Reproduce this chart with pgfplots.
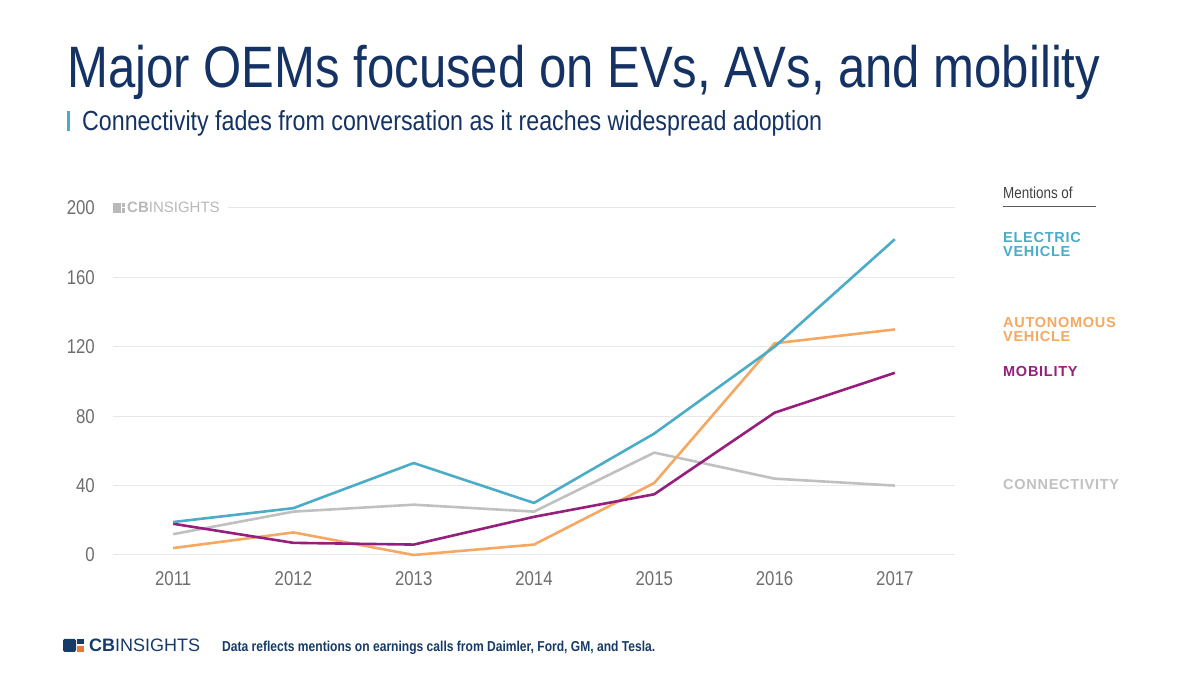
\documentclass[border=0pt]{standalone}
\usepackage{fontspec}
\setmainfont{Liberation Sans}[FakeStretch=0.84]
\newfontfamily\widesans{Liberation Sans}
\newfontfamily\legfont{Liberation Sans}[LetterSpace=5]
\usepackage{pgfplots}
\pgfplotsset{compat=1.18}
\definecolor{evblue}{RGB}{75,172,200}
\definecolor{avorange}{RGB}{245,168,98}
\definecolor{mobpurple}{RGB}{150,30,125}
\definecolor{congray}{RGB}{192,192,192}
\definecolor{titlenavy}{RGB}{20,50,100}
\definecolor{ticktext}{RGB}{110,110,110}
\definecolor{gridc}{RGB}{232,232,232}
\definecolor{wmgray}{RGB}{185,185,185}
\definecolor{logonavy}{RGB}{22,58,105}
\definecolor{logoorange}{RGB}{232,120,50}
\begin{document}
\begin{tikzpicture}
\path[use as bounding box] (0pt,0pt) rectangle (1200pt,674pt);
\begin{axis}[
  at={(113pt,119pt)}, anchor=south west,
  scale only axis, width=842pt, height=347pt,
  xmin=2010.5, xmax=2017.5, ymin=0, ymax=200,
  axis line style={draw=none},
  major tick length=0pt,
  xtick={2011,2012,2013,2014,2015,2016,2017},
  xticklabels={2011,2012,2013,2014,2015,2016,2017},
  ytick={0,40,80,120,160,200},
  yticklabels={0,40,80,120,160,200},
  ymajorgrids, grid style={gridc, line width=1pt},
  tick label style={font=\fontsize{20}{24}\selectfont, text=ticktext},
  yticklabel style={anchor=east, inner sep=0pt, xshift=-18pt},
  xticklabel style={anchor=north, inner sep=0pt, yshift=-16pt},
  clip=false,
  every axis plot/.append style={line width=2.6pt, line join=round}
]
\addplot[congray] coordinates {(2011,12) (2012,25) (2013,29) (2014,25) (2015,59) (2016,44) (2017,40)};
\addplot[avorange] coordinates {(2011,4) (2012,13) (2013,0) (2014,6) (2015,41.5) (2016,122) (2017,130)};
\addplot[mobpurple] coordinates {(2011,18) (2012,7) (2013,6) (2014,22) (2015,35) (2016,82) (2017,105)};
\addplot[evblue] coordinates {(2011,19) (2012,27) (2013,53) (2014,30) (2015,70) (2016,120) (2017,182)};
\end{axis}
\begin{scope}[x=1pt,y=1pt]
% title
\node[anchor=base west, inner sep=0, text=titlenavy] at (67,586)
  {\resizebox{1033pt}{!}{\fontsize{50}{60}\selectfont Major OEMs focused on EVs, AVs, and mobility}};
\fill[evblue] (67,543) rectangle (70,563);
\node[anchor=base west, inner sep=0, text=titlenavy] at (82,543)
  {\resizebox{740pt}{!}{\fontsize{24}{28}\selectfont Connectivity fades from conversation as it reaches widespread adoption}};
% watermark
\fill[white] (108,452) rectangle (228,475);
\fill[wmgray] (113,461) rectangle (121,471);
\fill[wmgray] (122,467) rectangle (125,471);
\fill[wmgray] (122,461) rectangle (125,465.5);
\node[anchor=base west, inner sep=0, text=wmgray] at (127,461)
  {\widesans\fontsize{15}{17}\selectfont\textbf{CB}INSIGHTS};
% legend
\node[anchor=base west, inner sep=0, text=black!75] at (1003,475) {\fontsize{16}{18}\selectfont Mentions of};
\draw[black!65, line width=1pt] (1003,467) -- (1096,467);
\node[anchor=base west, inner sep=0, text=evblue] at (1003,431) {\legfont\bfseries\fontsize{14.5}{16}\selectfont ELECTRIC};
\node[anchor=base west, inner sep=0, text=evblue] at (1003,417) {\legfont\bfseries\fontsize{14.5}{16}\selectfont VEHICLE};
\node[anchor=base west, inner sep=0, text=avorange] at (1003,346) {\legfont\bfseries\fontsize{14.5}{16}\selectfont AUTONOMOUS};
\node[anchor=base west, inner sep=0, text=avorange] at (1003,332) {\legfont\bfseries\fontsize{14.5}{16}\selectfont VEHICLE};
\node[anchor=base west, inner sep=0, text=mobpurple] at (1003,297) {\legfont\bfseries\fontsize{14.5}{16}\selectfont MOBILITY};
\node[anchor=base west, inner sep=0, text=congray] at (1003,184) {\legfont\bfseries\fontsize{14.5}{16}\selectfont CONNECTIVITY};
% footer
\fill[logonavy, rounded corners=1.5pt] (63,22) rectangle (76,35);
\fill[logonavy] (77,29.5) rectangle (84,35);
\fill[logoorange] (77,22) rectangle (84,28);
\node[anchor=base west, inner sep=0, text=logonavy] at (89,22)
  {\widesans\fontsize{18}{20}\selectfont\textbf{CB}INSIGHTS};
\node[anchor=base west, inner sep=0, text=logonavy] at (222,22)
  {\resizebox{433pt}{!}{\bfseries\fontsize{15}{18}\selectfont Data reflects mentions on earnings calls from Daimler, Ford, GM, and Tesla.}};
\end{scope}
\end{tikzpicture}
\end{document}
